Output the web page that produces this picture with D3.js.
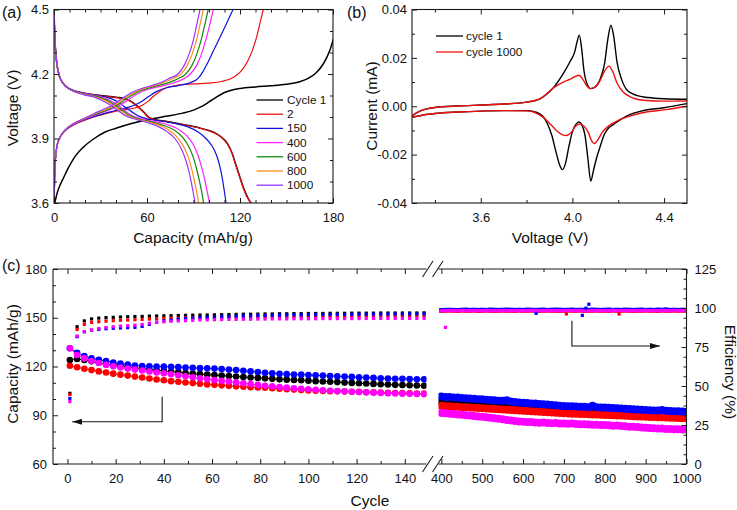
<!DOCTYPE html>
<html><head><meta charset="utf-8">
<script src="https://cdn.jsdelivr.net/npm/d3@7"></script>
<style>body{margin:0;background:#fff;} svg{display:block;}</style>
</head><body><svg id="c" width="737" height="510"></svg>
<script>
// ---------------- Panel (a) data: [capacity mAh/g, voltage V] ----------------
const a_legend = ["Cycle 1","2","150","400","600","800","1000"];
const a_c1_charge = [[0.5,3.6],[2,3.645],[4,3.685],[6,3.715],[9,3.76],[13,3.81],[19,3.86],[26,3.9],[33,3.93],[40,3.948],[50,3.97],[62,3.99],[72,4.003],[83,4.018],[90,4.032],[95,4.048],[100,4.07],[105,4.094],[110,4.114],[115,4.126],[120,4.133],[130,4.14],[140,4.145],[150,4.152],[158,4.163],[164,4.18],[169,4.205],[174,4.25],[178,4.31],[182,4.41]];
const a_c1_dis = [[0,4.5],[0.4,4.4],[1,4.31],[2,4.24],[3.5,4.19],[6,4.155],[10,4.132],[19,4.112],[30,4.1],[40,4.092],[46,4.085],[50,4.072],[54,4.05],[58,4.022],[61,4.0],[65,3.988],[72,3.98],[85,3.963],[94,3.949],[100,3.937],[105,3.922],[109,3.9],[112,3.875],[115,3.83],[117,3.785],[119.5,3.73],[122,3.675],[125,3.625],[127,3.6]];
const a_c2_charge = [[0.1,3.6],[0.4,3.72],[0.9,3.8],[1.8,3.86],[3.5,3.9],[7,3.935],[12,3.96],[19,3.983],[28,4.005],[38,4.024],[46,4.034],[52,4.042],[57,4.055],[61,4.075],[64,4.095],[68,4.118],[73,4.137],[80,4.148],[90,4.154],[100,4.158],[108,4.165],[114,4.178],[118,4.195],[122,4.225],[125,4.26],[128,4.31],[131,4.38],[133,4.44],[135,4.5]];
const a_c2_dis = [[0,4.5],[0.4,4.4],[1,4.31],[2,4.24],[3.5,4.19],[6,4.155],[10,4.13],[19,4.11],[30,4.098],[40,4.09],[46,4.082],[50,4.07],[54,4.048],[58,4.02],[61,3.998],[65,3.987],[72,3.979],[85,3.962],[94,3.948],[100,3.936],[105,3.921],[109,3.899],[112,3.873],[115,3.828],[117,3.782],[119.5,3.727],[122,3.672],[125,3.622],[127.3,3.6]];
const a_c150_charge = [[0.1,3.6],[0.4,3.72],[0.9,3.8],[1.8,3.86],[3.5,3.9],[7,3.935],[12,3.962],[19,3.985],[28,4.007],[37,4.025],[44,4.038],[50,4.05],[56,4.07],[61,4.095],[66,4.118],[72,4.135],[80,4.146],[88,4.16],[93,4.18],[96,4.21],[99,4.25],[103,4.31],[107,4.37],[111,4.43],[115.5,4.5]];
const a_c150_dis = [[0,4.5],[0.4,4.4],[1,4.31],[2,4.24],[3.5,4.19],[6,4.155],[10,4.13],[19,4.11],[28,4.1],[35,4.09],[40,4.075],[45,4.05],[50,4.025],[55,4.003],[60,3.992],[68,3.982],[78,3.97],[86,3.955],[93,3.93],[98,3.9],[102,3.865],[105,3.82],[107,3.77],[108.7,3.71],[110,3.65],[111,3.6]];
const a_c400_charge = [[0.1,3.6],[0.4,3.72],[0.9,3.8],[1.8,3.86],[3.5,3.9],[7,3.937],[12,3.964],[19,3.988],[28,4.012],[35,4.03],[41,4.05],[47,4.075],[52,4.1],[57,4.12],[63,4.133],[70,4.145],[77,4.158],[83,4.175],[88,4.2],[92,4.24],[95,4.29],[98,4.36],[100.5,4.43],[102.8,4.5]];
const a_c400_dis = [[0,4.5],[0.4,4.4],[1,4.31],[2,4.24],[3.5,4.19],[6,4.155],[10,4.13],[19,4.11],[28,4.098],[34,4.085],[39,4.065],[44,4.04],[49,4.012],[54,3.996],[60,3.986],[68,3.974],[75,3.96],[81,3.94],[86,3.91],[90,3.87],[93,3.82],[95.5,3.76],[97.5,3.7],[99.2,3.64],[100.3,3.6]];
const a_c600_charge = [[0.1,3.6],[0.4,3.72],[0.9,3.8],[1.8,3.86],[3.5,3.9],[7,3.938],[12,3.965],[19,3.99],[27,4.013],[34,4.032],[40,4.052],[45,4.077],[50,4.1],[55,4.12],[61,4.134],[67,4.146],[74,4.16],[80,4.178],[85,4.2],[89,4.24],[92,4.29],[95,4.36],[97.3,4.43],[99.5,4.5]];
const a_c600_dis = [[0,4.5],[0.4,4.4],[1,4.31],[2,4.24],[3.5,4.19],[6,4.155],[10,4.13],[19,4.108],[28,4.095],[33,4.082],[38,4.062],[43,4.037],[48,4.01],[53,3.995],[58,3.985],[65,3.973],[72,3.958],[78,3.937],[83,3.905],[87,3.862],[90,3.81],[92.3,3.75],[94.2,3.69],[95.6,3.64],[96.5,3.6]];
const a_c800_charge = [[0.1,3.6],[0.4,3.72],[0.9,3.8],[1.8,3.86],[3.5,3.9],[7,3.938],[12,3.966],[19,3.991],[26,4.014],[33,4.034],[39,4.055],[44,4.08],[49,4.103],[54,4.122],[59,4.135],[65,4.147],[71,4.162],[77,4.18],[82,4.2],[86,4.24],[89,4.29],[92,4.36],[94.2,4.43],[96.3,4.5]];
const a_c800_dis = [[0,4.5],[0.4,4.4],[1,4.31],[2,4.24],[3.5,4.19],[6,4.155],[10,4.13],[19,4.106],[27,4.093],[32,4.08],[37,4.06],[42,4.034],[47,4.008],[52,3.994],[57,3.984],[63,3.972],[70,3.956],[75,3.935],[80,3.902],[84,3.858],[87,3.805],[89.3,3.745],[91.1,3.685],[92.5,3.635],[93.3,3.6]];
const a_c1000_charge = [[0.1,3.6],[0.4,3.72],[0.9,3.8],[1.8,3.86],[3.5,3.9],[7,3.939],[12,3.967],[19,3.992],[26,4.016],[32,4.036],[38,4.057],[43,4.082],[48,4.105],[53,4.123],[58,4.136],[64,4.148],[70,4.164],[75,4.182],[80,4.2],[84,4.24],[87,4.29],[90,4.36],[92.1,4.43],[94.2,4.5]];
const a_c1000_dis = [[0,4.5],[0.4,4.4],[1,4.31],[2,4.24],[3.5,4.19],[6,4.155],[10,4.13],[19,4.104],[27,4.09],[31,4.077],[36,4.057],[41,4.031],[46,4.006],[51,3.993],[56,3.983],[62,3.97],[68,3.953],[73,3.932],[78,3.9],[82,3.855],[85,3.8],[87.3,3.74],[89,3.68],[90.3,3.63],[91,3.6]];
const a_xTicks = [0,60,120,180];
const a_yTicks = [3.6,3.9,4.2,4.5];

// ---------------- Panel (b) data: [voltage V, current mA] ----------------
const b_legend = ["cycle 1","cycle 1000"];
const b_c1_anodic = [[3.30,-0.0040],[3.33,-0.0022],[3.36,-0.0012],[3.40,-0.0005],[3.50,0.0001],[3.60,0.0005],[3.70,0.0009],[3.80,0.0017],[3.86,0.0032],[3.92,0.0080],[3.96,0.0135],[3.99,0.0185],[4.01,0.0225],[4.02,0.0265],[4.03,0.0294],[4.04,0.0240],[4.05,0.0150],[4.065,0.0090],[4.08,0.0073],[4.10,0.0080],[4.12,0.0110],[4.14,0.0175],[4.155,0.0280],[4.168,0.0335],[4.18,0.0290],[4.195,0.0180],[4.215,0.0110],[4.24,0.0065],[4.28,0.0045],[4.33,0.0036],[4.4,0.0031],[4.5,0.0029]];
const b_c1_cathodic = [[3.30,-0.0046],[3.35,-0.0036],[3.40,-0.0030],[3.50,-0.0024],[3.60,-0.0020],[3.70,-0.0018],[3.80,-0.0018],[3.84,-0.0024],[3.87,-0.0040],[3.89,-0.0070],[3.91,-0.0120],[3.93,-0.0195],[3.945,-0.0245],[3.957,-0.0262],[3.97,-0.0235],[3.985,-0.0165],[4.0,-0.0105],[4.015,-0.0075],[4.028,-0.0065],[4.04,-0.0075],[4.055,-0.0120],[4.068,-0.0220],[4.08,-0.0310],[4.092,-0.0265],[4.105,-0.0215],[4.12,-0.0170],[4.14,-0.0115],[4.16,-0.0088],[4.18,-0.0075],[4.21,-0.0055],[4.25,-0.0035],[4.3,-0.0020],[4.4,-0.0006],[4.5,0.0011]];
const b_c1000_anodic = [[3.30,-0.0040],[3.33,-0.0022],[3.36,-0.0012],[3.40,-0.0005],[3.50,0.0001],[3.60,0.0005],[3.70,0.0009],[3.80,0.0017],[3.86,0.0032],[3.92,0.0078],[3.96,0.0100],[3.99,0.0112],[4.01,0.0122],[4.028,0.0128],[4.045,0.0112],[4.06,0.0088],[4.08,0.0073],[4.10,0.0080],[4.12,0.0105],[4.14,0.0145],[4.16,0.0166],[4.175,0.0145],[4.195,0.0095],[4.22,0.0060],[4.25,0.0040],[4.31,0.0025],[4.4,0.0021],[4.5,0.0022]];
const b_c1000_cathodic = [[3.30,-0.0046],[3.35,-0.0036],[3.40,-0.0030],[3.50,-0.0024],[3.60,-0.0020],[3.70,-0.0018],[3.80,-0.0019],[3.83,-0.0024],[3.87,-0.0044],[3.90,-0.0070],[3.93,-0.0100],[3.955,-0.0117],[3.975,-0.0121],[3.995,-0.0108],[4.015,-0.0082],[4.03,-0.0074],[4.05,-0.0082],[4.07,-0.0110],[4.085,-0.0145],[4.096,-0.0154],[4.11,-0.0140],[4.13,-0.0108],[4.16,-0.0080],[4.2,-0.0058],[4.24,-0.0044],[4.3,-0.0028],[4.41,-0.0014],[4.5,0.0000]];
const b_xTicks = [3.6,4.0,4.4];
const b_yTicks = [-0.04,-0.02,0,0.02,0.04];

// ---------------- Panel (c) data ----------------
const c_cycLeft = [1,4,7,10,13,16,19,22,25,28,31,34,37,40,43,46,49,52,55,58,61,64,67,70,73,76,79,82,85,88,91,94,97,100,103,106,109,112,115,118,121,124,127,130,133,136,139,142,145,148];
const c_capL_black = [124.0,124.6,124.0,123.2,122.4,121.7,121.0,120.4,119.8,119.2,118.7,118.2,117.7,117.2,116.8,116.4,116.0,115.6,115.3,115.0,114.7,114.4,114.1,113.8,113.5,113.2,113.0,112.7,112.4,112.1,111.9,111.7,111.5,111.3,111.0,110.8,110.6,110.4,110.1,109.9,109.7,109.5,109.3,109.1,108.9,108.7,108.6,108.5,108.3,108.2];
const c_capL_red = [120.5,119.5,118.6,117.8,117.0,116.3,115.6,115.0,114.4,113.8,113.2,112.6,112.0,111.5,111.0,110.6,110.2,109.8,109.4,109.0,108.7,108.4,108.1,107.8,107.5,107.3,107.1,106.9,106.6,106.3,106.0,105.8,105.5,105.3,105.1,104.9,104.8,104.7,104.6,104.5,104.4,104.2,104.1,104.0,103.8,103.7,103.6,103.5,103.4,103.3];
const c_capL_blue = [131.2,128.5,126.5,125.0,124.2,123.4,122.5,121.8,121.2,120.6,120.3,120.1,120.0,119.9,119.8,119.6,119.4,119.2,119.0,118.9,118.7,118.4,118.1,117.8,117.4,117.0,116.6,116.2,115.8,115.5,115.3,115.1,115.0,114.8,114.6,114.4,114.2,114.0,113.8,113.6,113.4,113.2,113.0,112.8,112.6,112.5,112.4,112.3,112.2,112.1];
const c_capL_magenta = [131.2,127.1,125.0,123.4,122.2,121.0,120.1,119.4,118.7,118.1,117.5,116.9,116.3,115.8,115.2,114.6,114.0,113.4,112.8,112.2,111.7,111.2,110.7,110.2,109.7,109.2,108.7,108.2,107.8,107.4,107.0,106.6,106.3,106.0,105.7,105.4,105.1,104.9,104.7,104.5,104.3,104.1,103.9,103.7,103.5,103.4,103.3,103.2,103.1,103.0];
const c_effL_black = [45.3,88.0,91.7,93.0,93.5,93.8,94.0,94.2,94.4,94.5,94.6,94.8,94.9,95.0,95.1,95.2,95.3,95.4,95.5,95.5,95.6,95.7,95.8,95.9,96.0,96.0,96.1,96.2,96.2,96.3,96.3,96.4,96.4,96.5,96.5,96.5,96.6,96.6,96.6,96.7,96.7,96.7,96.7,96.8,96.8,96.8,96.8,96.8,96.8,96.9];
const c_effL_red = [44.5,86.3,89.5,90.8,91.2,91.6,91.9,92.1,92.3,92.5,92.7,92.9,93.1,93.3,93.4,93.5,93.6,93.7,93.8,93.8,93.9,93.9,94.0,94.0,94.1,94.1,94.2,94.2,94.3,94.3,94.4,94.4,94.5,94.5,94.5,94.6,94.6,94.6,94.7,94.7,94.7,94.8,94.8,94.8,94.9,94.9,94.9,94.9,95.0,95.0];
const c_effL_blue = [42.0,81.6,84.8,85.8,86.3,86.7,87.0,87.2,87.4,87.6,88.2,89.5,90.8,91.7,92.3,92.8,93.2,93.5,93.8,94.0,94.2,94.4,94.6,94.8,94.9,95.0,95.1,95.2,95.3,95.4,95.5,95.6,95.6,95.7,95.7,95.8,95.8,95.9,95.9,96.0,96.0,96.0,96.1,96.1,96.1,96.2,96.2,96.2,96.2,96.3];
const c_effL_magenta = [40.0,82.0,84.8,85.9,86.8,87.5,88.0,88.4,88.7,89.0,89.5,90.2,90.8,91.2,91.5,91.7,91.9,92.1,92.3,92.4,92.5,92.6,92.7,92.7,92.8,92.8,92.9,92.9,93.0,93.0,93.0,93.1,93.1,93.1,93.1,93.2,93.2,93.2,93.2,93.2,93.2,93.3,93.3,93.3,93.3,93.3,93.3,93.3,93.3,93.3];
const c_cycRight = [400,410,420,430,440,450,460,470,480,490,500,510,520,530,540,550,560,570,580,590,600,610,620,630,640,650,660,670,680,690,700,710,720,730,740,750,760,770,780,790,800,810,820,830,840,850,860,870,880,890,900,910,920,930,940,950,960,970,980,990,1000];
const c_capR_black = [98.4,98.2,98.1,97.9,97.8,97.6,97.5,97.3,97.2,97.0,96.9,96.7,96.6,96.4,96.3,96.1,96.0,95.8,95.6,95.5,95.3,95.1,94.9,94.7,94.5,94.3,94.1,93.9,93.6,93.4,93.2,93.1,93.0,92.9,92.8,92.7,92.6,92.5,92.4,92.3,92.2,92.1,92.0,91.9,91.8,91.7,91.6,91.5,91.4,91.3,91.2,91.1,91.1,91.0,91.0,90.9,90.8,90.8,90.7,90.7,90.6];
const c_capR_red = [95.8,95.6,95.5,95.3,95.2,95.0,94.9,94.7,94.6,94.4,94.3,94.1,94.0,93.8,93.7,93.5,93.4,93.2,93.1,92.9,92.8,92.6,92.5,92.3,92.2,92.0,91.8,91.7,91.5,91.4,91.2,91.1,91.0,90.9,90.8,90.7,90.6,90.5,90.4,90.3,90.2,90.1,90.0,89.9,89.8,89.7,89.5,89.4,89.3,89.2,89.1,89.0,88.9,88.8,88.7,88.6,88.5,88.4,88.3,88.2,88.1];
const c_capR_blue = [101.6,101.3,101.2,101.0,100.9,100.6,100.5,100.3,100.1,99.9,99.8,99.6,99.4,99.3,99.0,98.9,99.2,98.4,98.2,97.9,97.7,97.5,97.3,97.2,96.9,96.7,96.6,96.3,96.1,95.9,95.7,95.6,95.6,95.4,95.3,95.2,95.0,95.9,94.9,94.8,94.7,94.6,94.4,94.3,94.1,94.0,93.8,93.7,93.5,93.4,93.2,93.1,93.0,92.9,93.2,92.7,92.6,92.5,92.4,92.3,92.2];
const c_capR_magenta = [91.4,91.2,91.0,90.8,90.5,90.3,90.0,89.8,89.6,89.3,89.1,88.8,88.5,88.2,87.8,87.5,87.1,86.8,86.5,86.2,86.0,85.8,85.9,85.6,85.4,85.5,85.3,85.1,85.2,85.0,85.0,84.8,84.9,84.6,84.4,84.5,84.3,84.1,84.2,84.0,84.0,83.8,83.6,83.7,83.4,83.2,83.0,82.9,82.7,82.5,82.3,82.2,82.0,81.9,81.8,81.6,81.5,81.4,81.4,81.3,81.3];
const c_effR_black = [98.5,98.6,98.6,98.5,98.7,98.6,98.6,98.5,98.6,98.7,98.6,98.6,98.5,98.6,98.7,98.6,98.6,98.5,98.6,98.6,98.7,98.6,98.5,98.6,98.6,98.7,98.6,98.6,98.5,98.6,98.6,98.7,98.6,98.6,98.5,98.6,98.6,98.7,98.6,98.6,98.5,98.6,98.7,98.6,98.6,98.5,98.6,98.6,98.7,98.6,98.6,98.5,98.6,98.6,98.7,98.6,98.6,98.5,98.6,98.6,98.6];
const c_effR_red = [97.9,98.0,98.1,98.0,97.9,98.1,98.0,98.0,98.1,97.9,98.0,98.1,98.0,97.9,98.0,98.1,98.0,98.0,97.9,98.1,98.0,98.0,98.1,98.0,97.9,98.0,98.1,98.0,98.0,97.9,98.0,98.1,98.0,98.0,98.1,97.9,98.0,98.0,98.1,98.0,98.0,97.9,98.1,98.0,98.0,98.1,98.0,97.9,98.0,98.0,98.1,98.0,98.0,97.9,98.1,98.0,98.0,98.1,98.0,98.0,98.0];
const c_effR_blue = [98.9,99.0,99.1,99.0,98.9,99.1,99.2,99.0,99.1,99.0,99.1,99.0,99.2,99.1,99.0,99.1,99.2,99.1,99.0,99.1,99.0,99.2,99.1,99.0,99.1,99.2,99.0,99.1,99.2,99.1,99.0,99.1,99.2,99.0,99.1,99.1,99.0,99.2,99.1,99.0,99.1,99.2,99.0,99.1,99.0,99.2,99.1,99.0,99.1,99.2,99.0,99.1,99.0,99.2,99.1,99.3,99.0,99.1,99.0,99.1,99.0];
const c_effR_magenta = [98.2,98.3,98.4,98.3,98.2,98.4,98.3,98.3,98.4,98.2,98.3,98.4,98.3,98.2,98.3,98.4,98.3,98.3,98.2,98.4,98.3,98.3,98.4,98.3,98.2,98.3,98.4,98.3,98.3,98.2,98.3,98.4,98.3,98.3,98.4,98.2,98.3,98.3,98.4,98.3,98.3,98.2,98.4,98.3,98.3,98.4,98.3,98.2,98.3,98.3,98.4,98.3,98.3,98.2,98.4,98.3,98.3,98.4,98.3,98.3,98.3];
const c_outSeries = ["magenta","blue","red","blue","blue","blue","red"];
const c_outCycle = [410,632,706,745,754,761,835];
const c_outEff = [87.6,96.6,96.2,95.3,99.9,102.4,96.2];
const c_xTicksLeft = [0,20,40,60,80,100,120,140];
const c_xTicksRight = [400,500,600,700,800,900,1000];
const c_yTicksCap = [60,90,120,150,180];
const c_yTicksEff = [0,25,50,75,100,125];

// ---------------- drawing ----------------
const FONT = "'Liberation Sans', Arial, Helvetica, sans-serif";
const svg = d3.select("#c").attr("font-family", FONT);
svg.append("rect").attr("width",737).attr("height",510).attr("fill","#fff");
const AX = "#1a1a1a";

function axis(fn, scale, pos, vals, size, fmt, pad, vertical){
  const a = fn(scale).tickValues(vals).tickSizeInner(-size).tickSizeOuter(0)
    .tickPadding(pad||0).tickFormat(fmt ? fmt : () => "");
  const g = svg.append("g")
    .attr("transform", vertical ? `translate(${pos},0)` : `translate(0,${pos})`)
    .call(a);
  g.select(".domain").remove();
  g.attr("font-family", FONT).attr("font-size", 13);
  g.selectAll("line").attr("stroke", AX).attr("stroke-width", 1);
  g.selectAll("text").attr("fill", "#111");
  return g;
}
function frame(x0,y0,x1,y1){
  svg.append("rect").attr("x",x0).attr("y",y0).attr("width",x1-x0).attr("height",y1-y0)
    .attr("fill","none").attr("stroke",AX).attr("stroke-width",1.1);
}
function txt(x,y,s,size,anchor,rot){
  const t = svg.append("text").attr("x",x).attr("y",y).attr("font-size",size)
    .attr("text-anchor",anchor||"middle").attr("fill","#111").attr("dominant-baseline","central").text(s);
  if(rot) t.attr("transform",`rotate(${rot},${x},${y})`);
  return t;
}
function minorVals(majors, step, lo, hi){
  const out=[]; for(let v=lo; v<=hi+1e-9; v+=step){ const r=+v.toFixed(6); if(!majors.some(m=>Math.abs(m-r)<1e-9)) out.push(r);} return out;
}

// ===== Panel (a) =====
const xA = d3.scaleLinear().domain([0,180]).range([54,333]);
const yA = d3.scaleLinear().domain([3.6,4.5]).range([203,9.5]);
svg.append("clipPath").attr("id","clipA").append("rect").attr("x",54).attr("y",9.5).attr("width",279).attr("height",193.5);
const lineA = d3.line().x(d=>xA(d[0])).y(d=>yA(d[1])).curve(d3.curveMonotoneX);
const aColors = ["#000000","#ee1111","#1010dd","#ff22ff","#118811","#ff8c1a","#9933ff"];
const aSeries = [
  [a_c1_charge,a_c1_dis],[a_c2_charge,a_c2_dis],[a_c150_charge,a_c150_dis],[a_c400_charge,a_c400_dis],
  [a_c600_charge,a_c600_dis],[a_c800_charge,a_c800_dis],[a_c1000_charge,a_c1000_dis]];
const gA = svg.append("g").attr("clip-path","url(#clipA)");
aSeries.forEach((pair,i)=>{
  pair.forEach(arr=>{
    gA.append("path").attr("d",lineA(arr)).attr("fill","none").attr("stroke",aColors[i]).attr("stroke-width", i===0?1.5:1.2);
  });
});
axis(d3.axisBottom, xA, 203, a_xTicks, 5, d3.format("d"), 10);
axis(d3.axisBottom, xA, 203, minorVals(a_xTicks,10,0,180), 3);
axis(d3.axisTop, xA, 9.5, a_xTicks, 5);
axis(d3.axisTop, xA, 9.5, minorVals(a_xTicks,10,0,180), 3);
axis(d3.axisLeft, yA, 54, a_yTicks, 5, v=>v.toFixed(1), 5, true);
axis(d3.axisLeft, yA, 54, minorVals(a_yTicks,0.1,3.6,4.5), 3, null, 0, true);
axis(d3.axisRight, yA, 333, a_yTicks, 5, null, 0, true);
axis(d3.axisRight, yA, 333, minorVals(a_yTicks,0.1,3.6,4.5), 3, null, 0, true);
frame(54,9.5,333,203);
a_legend.forEach((s,i)=>{
  const y = 100 + i*14.2;
  svg.append("line").attr("x1",256.5).attr("x2",283).attr("y1",y).attr("y2",y).attr("stroke",aColors[i]).attr("stroke-width",1.3);
  txt(287,y,s,11.8,"start");
});
txt(193,237,"Capacity (mAh/g)",15.5);
txt(12,108,"Voltage (V)",15.5,"middle",-90);
txt(2,12,"(a)",16,"start");

// ===== Panel (b) =====
const xB = d3.scaleLinear().domain([3.3,4.5]).range([412,687]);
const yB = d3.scaleLinear().domain([-0.04,0.04]).range([203,9.5]);
svg.append("clipPath").attr("id","clipB").append("rect").attr("x",412).attr("y",9.5).attr("width",275).attr("height",193.5);
const lineB = d3.line().x(d=>xB(d[0])).y(d=>yB(d[1])).curve(d3.curveMonotoneX);
const gB = svg.append("g").attr("clip-path","url(#clipB)");
const bColors = ["#000000","#ee1111"];
[[b_c1_anodic,b_c1_cathodic],[b_c1000_anodic,b_c1000_cathodic]].forEach((pair,i)=>{
  pair.forEach(arr=>gB.append("path").attr("d",lineB(arr)).attr("fill","none").attr("stroke",bColors[i]).attr("stroke-width",1.4));
});
const bMinorX = [3.4,3.8,4.2];
const bMinorY = [-0.03,-0.01,0.01,0.03];
axis(d3.axisBottom, xB, 203, b_xTicks, 5, v=>v.toFixed(1), 10);
axis(d3.axisBottom, xB, 203, bMinorX, 3);
axis(d3.axisTop, xB, 9.5, b_xTicks, 5);
axis(d3.axisTop, xB, 9.5, bMinorX, 3);
axis(d3.axisLeft, yB, 412, b_yTicks, 5, v=>v.toFixed(2), 5, true);
axis(d3.axisLeft, yB, 412, bMinorY, 3, null, 0, true);
axis(d3.axisRight, yB, 687, b_yTicks, 5, null, 0, true);
axis(d3.axisRight, yB, 687, bMinorY, 3, null, 0, true);
frame(412,9.5,687,203);
b_legend.forEach((s,i)=>{
  const y = 36 + i*16;
  svg.append("line").attr("x1",436).attr("x2",463).attr("y1",y).attr("y2",y).attr("stroke",bColors[i]).attr("stroke-width",1.3);
  txt(466,y,s,11.8,"start");
});
txt(550,237,"Voltage (V)",15.5);
txt(371,106,"Current (mA)",15.5,"middle",-90);
txt(347,12,"(b)",16,"start");

// ===== Panel (c) =====
const xL = d3.scaleLinear().domain([-6,149]).range([53,426.5]);
const xR = d3.scaleLinear().domain([393,1000]).range([438.5,686.5]);
const yC = d3.scaleLinear().domain([60,180]).range([464,269]);
const yE = d3.scaleLinear().domain([0,125]).range([464,269]);
svg.append("clipPath").attr("id","clipL").append("rect").attr("x",53).attr("y",269).attr("width",373.5).attr("height",195);
svg.append("clipPath").attr("id","clipR").append("rect").attr("x",438.5).attr("y",260).attr("width",248).attr("height",204);
const cSeries = [
  {c:"#000000", capL:c_capL_black, effL:c_effL_black, capR:c_capR_black, effR:c_effR_black, name:"black"},
  {c:"#ff0000", capL:c_capL_red, effL:c_effL_red, capR:c_capR_red, effR:c_effR_red, name:"red"},
  {c:"#0000ff", capL:c_capL_blue, effL:c_effL_blue, capR:c_capR_blue, effR:c_effR_blue, name:"blue"},
  {c:"#ff00ff", capL:c_capL_magenta, effL:c_effL_magenta, capR:c_capR_magenta, effR:c_effR_magenta, name:"magenta"}];
const gL = svg.append("g").attr("clip-path","url(#clipL)");
const gR = svg.append("g").attr("clip-path","url(#clipR)");
const sq = 3.2;
cSeries.forEach(s=>{
  const pl = c_cycLeft.map((c,i)=>[c,s.capL[i]]);
  const pr = c_cycRight.map((c,i)=>[c,s.capR[i]]);
  gL.append("path").attr("d",d3.line().x(d=>xL(d[0])).y(d=>yC(d[1]))(pl)).attr("fill","none").attr("stroke",s.c).attr("stroke-width",1);
  gL.selectAll(null).data(pl).join("circle").attr("cx",d=>xL(d[0])).attr("cy",d=>yC(d[1])).attr("r",3.3).attr("fill",s.c);
  gR.append("path").attr("d",d3.line().x(d=>xR(d[0])).y(d=>yC(d[1]))(pr)).attr("fill","none").attr("stroke",s.c).attr("stroke-width",1);
  gR.selectAll(null).data(pr).join("circle").attr("cx",d=>xR(d[0])).attr("cy",d=>yC(d[1])).attr("r",4).attr("fill",s.c);
});
cSeries.forEach(s=>{
  const el = c_cycLeft.map((c,i)=>[c,s.effL[i]]);
  const er = c_cycRight.map((c,i)=>[c,s.effR[i]]);
  gL.selectAll(null).data(el).join("rect").attr("x",d=>xL(d[0])-sq/2).attr("y",d=>yE(d[1])-sq/2).attr("width",sq).attr("height",sq).attr("fill",s.c);
  gR.selectAll(null).data(er).join("rect").attr("x",d=>xR(d[0])-2.2).attr("y",d=>yE(d[1])-1.7).attr("width",4.4).attr("height",3.4).attr("fill",s.c);
});
const colorOf = Object.fromEntries(cSeries.map(s=>[s.name,s.c]));
gR.selectAll(null).data(c_outCycle.map((c,i)=>({c, e:c_outEff[i], s:c_outSeries[i]}))).join("rect")
  .attr("x",d=>xR(d.c)-1.6).attr("y",d=>yE(d.e)-1.6).attr("width",3.2).attr("height",3.2).attr("fill",d=>colorOf[d.s]);

// axes (c)
const cMinorL = [10,30,50,70,90,110,130];
const cMinorR = [450,550,650,750,850,950];
axis(d3.axisBottom, xL, 464, c_xTicksLeft, 5, d3.format("d"), 10);
axis(d3.axisBottom, xL, 464, cMinorL, 3);
axis(d3.axisBottom, xR, 464, c_xTicksRight, 5, d3.format("d"), 10);
axis(d3.axisBottom, xR, 464, cMinorR, 3);
axis(d3.axisTop, xL, 269, c_xTicksLeft, 5);
axis(d3.axisTop, xL, 269, cMinorL, 3);
axis(d3.axisTop, xR, 269, c_xTicksRight, 5);
axis(d3.axisTop, xR, 269, cMinorR, 3);
axis(d3.axisLeft, yC, 53, c_yTicksCap, 5, d3.format("d"), 6, true);
axis(d3.axisLeft, yC, 53, [70,80,100,110,130,140,160,170], 3, null, 0, true);
axis(d3.axisRight, yE, 686.5, c_yTicksEff, 5, d3.format("d"), 8, true);
axis(d3.axisRight, yE, 686.5, minorVals(c_yTicksEff,6.25,0,125), 3, null, 0, true);
const brk = svg.append("g").attr("stroke",AX).attr("stroke-width",1.1).attr("fill","none");
[269,464].forEach(y=>{
  brk.append("line").attr("x1",53).attr("x2",xL(149)).attr("y1",y).attr("y2",y);
  brk.append("line").attr("x1",xR(393)).attr("x2",686.5).attr("y1",y).attr("y2",y);
  brk.append("line").attr("x1",xL(149)-4).attr("y1",y+8).attr("x2",xL(149)+6.5).attr("y2",y-8);
  brk.append("line").attr("x1",xL(149)+6).attr("y1",y+8).attr("x2",xL(149)+16.5).attr("y2",y-8);
});
brk.append("line").attr("x1",53).attr("x2",53).attr("y1",269).attr("y2",464);
brk.append("line").attr("x1",686.5).attr("x2",686.5).attr("y1",269).attr("y2",464);

// arrows
const defs = svg.append("defs");
defs.append("marker").attr("id","ah").attr("viewBox","0 0 10 6").attr("refX",10).attr("refY",3)
  .attr("markerWidth",10).attr("markerHeight",6).attr("markerUnits","userSpaceOnUse").attr("orient","auto")
  .append("path").attr("d","M0,0L10,3L0,6Z").attr("fill","#111");
const arrowL = [[39.3,101.4],[39.3,86.0],[2,86.0]];
const arrowR = [[719.6,91.8],[719.6,75.6],[935,75.6]];
svg.append("path").attr("d",d3.line().x(d=>xL(d[0])).y(d=>yC(d[1]))(arrowL)).attr("fill","none").attr("stroke","#111").attr("stroke-width",1.1).attr("marker-end","url(#ah)");
svg.append("path").attr("d",d3.line().x(d=>xR(d[0])).y(d=>yE(d[1]))(arrowR)).attr("fill","none").attr("stroke","#111").attr("stroke-width",1.1).attr("marker-end","url(#ah)");

txt(370,500,"Cycle",15.5);
txt(12,364,"Capacity (mAh/g)",15.5,"middle",-90);
txt(730,372,"Efficiency (%)",15.5,"middle",90);
txt(2,265,"(c)",16,"start");
</script></body></html>
